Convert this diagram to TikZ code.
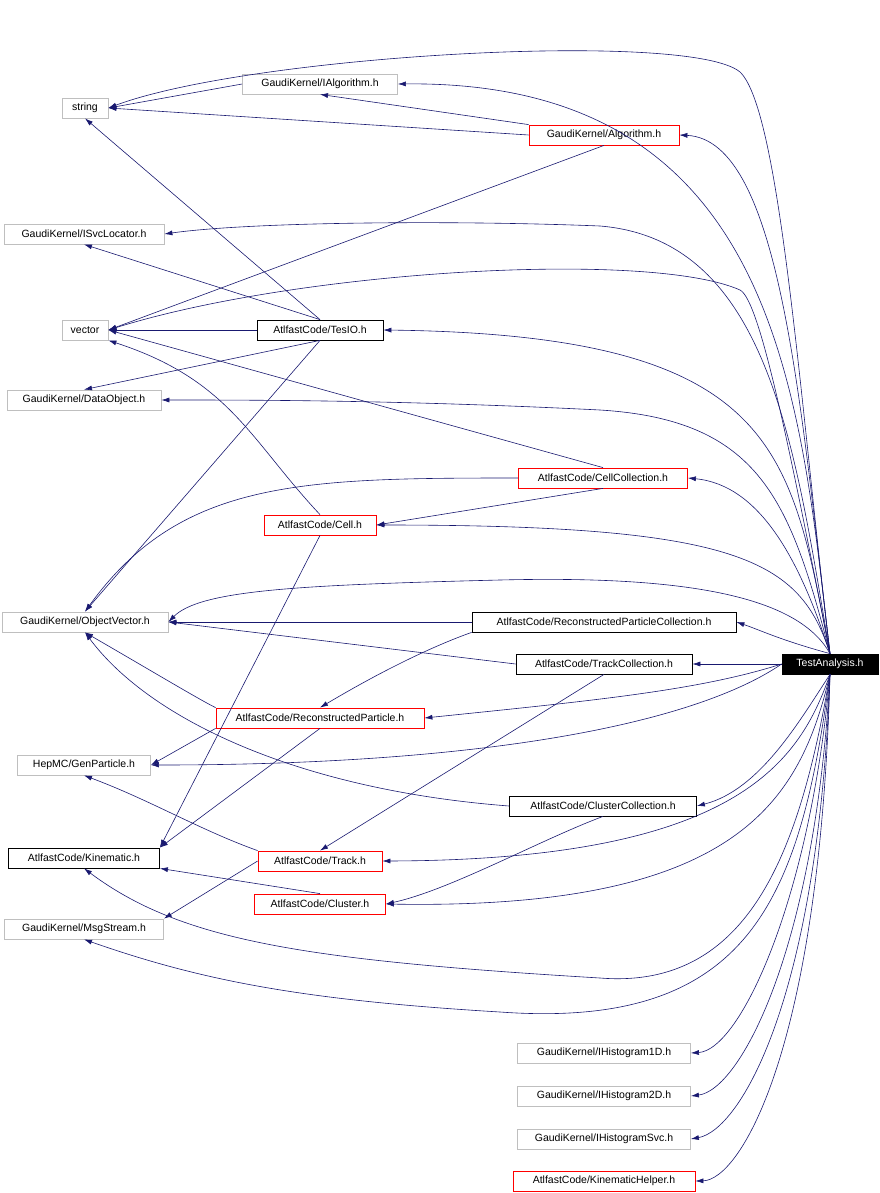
\documentclass[tikz,border=0pt]{standalone}
\usepackage{fontspec}
\setmainfont{Liberation Sans}
\usetikzlibrary{arrows.meta}
\definecolor{edgec}{HTML}{191970}
\definecolor{gboxc}{HTML}{BFBFBF}
\definecolor{rboxc}{HTML}{FF0000}
\tikzset{
  box/.style={draw, rectangle, line width=0.8pt, inner sep=0pt, minimum height=20pt, font=\fontsize{10.5}{12}\selectfont},
  gnode/.style={box, draw=gboxc},
  rnode/.style={box, draw=rboxc},
  bnode/.style={box, draw=black},
  e/.style={draw=edgec, line width=0.6pt, -{Latex[length=8pt,width=5pt]}}
}
\begin{document}
\begin{tikzpicture}[x=1pt,y=-1pt]
\useasboundingbox (0,0) rectangle (880,1193);
\node[gnode, minimum width=46] (str) at (85,108) {string};
\node[gnode, minimum width=155] (ialg) at (320,84) {GaudiKernel/IAlgorithm.h};
\node[rnode, minimum width=150] (alg) at (604,135) {GaudiKernel/Algorithm.h};
\node[gnode, minimum width=160] (isvc) at (84,234) {GaudiKernel/ISvcLocator.h};
\node[gnode, minimum width=46] (vec) at (85,330) {vector};
\node[bnode, minimum width=126] (tes) at (320,330) {AtlfastCode/TesIO.h};
\node[gnode, minimum width=154] (dobj) at (84,400) {GaudiKernel/DataObject.h};
\node[rnode, minimum width=169] (cc) at (603,478) {AtlfastCode/CellCollection.h};
\node[rnode, minimum width=112] (cell) at (320,525) {AtlfastCode/Cell.h};
\node[gnode, minimum width=166] (ov) at (85,622) {GaudiKernel/ObjectVector.h};
\node[bnode, minimum width=264] (rpc) at (604,622) {AtlfastCode/ReconstructedParticleCollection.h};
\node[bnode, minimum width=176] (tc) at (604,664) {AtlfastCode/TrackCollection.h};
\node[box, fill=black, text=white, minimum width=96] (ta) at (830,664) {TestAnalysis.h};
\node[rnode, minimum width=208] (rp) at (320,718) {AtlfastCode/ReconstructedParticle.h};
\node[gnode, minimum width=133] (gp) at (84,765) {HepMC/GenParticle.h};
\node[bnode, minimum width=187] (clc) at (603,806) {AtlfastCode/ClusterCollection.h};
\node[bnode, minimum width=151] (kin) at (84,858) {AtlfastCode/Kinematic.h};
\node[rnode, minimum width=124] (trk) at (320,861) {AtlfastCode/Track.h};
\node[rnode, minimum width=131] (clu) at (320,904) {AtlfastCode/Cluster.h};
\node[gnode, minimum width=159] (msg) at (84,929) {GaudiKernel/MsgStream.h};
\node[gnode, minimum width=173] (h1) at (604,1053) {GaudiKernel/IHistogram1D.h};
\node[gnode, minimum width=173] (h2) at (604,1096) {GaudiKernel/IHistogram2D.h};
\node[gnode, minimum width=173] (hs) at (604,1139) {GaudiKernel/IHistogramSvc.h};
\node[rnode, minimum width=182] (kh) at (604,1181) {AtlfastCode/KinematicHelper.h};

% TestAnalysis edges
\draw[e] (ta.north) .. controls (800,400) and (780,110) .. (740,72) .. controls (690,30) and (250,55) .. (str.east);
\draw[e] (ta.north) .. controls (800,400) and (780,80) .. (ialg.east);
\draw[e] (ta.north) .. controls (800,400) and (780,140) .. (alg.east);
\draw[e] (ta.north) .. controls (795,450) and (770,240) .. (600,226) .. controls (450,220) and (250,222) .. (isvc.east);
\draw[e] (ta.north) .. controls (790,450) and (760,300) .. (740,290) .. controls (650,250) and (300,270) .. (vec.east);
\draw[e] (ta.north) .. controls (790,450) and (780,335) .. (tes.east);
\draw[e] (ta.north) .. controls (790,500) and (760,420) .. (600,410) .. controls (400,400) and (250,400) .. (dobj.east);
\draw[e] (ta.north) .. controls (800,560) and (760,485) .. (cc.east);
\draw[e] (ta.north) .. controls (800,560) and (740,525) .. (cell.east);
\draw[e] (ta.north) .. controls (800,600) and (700,575) .. (500,580) .. controls (300,585) and (200,590) .. (ov.east);
\draw[e] (ta.north) .. controls (780,640) and (760,630) .. (rpc.east);
\draw[e] (ta.west) -- (tc.east);
\draw[e] (ta.west) .. controls (700,690) and (600,700) .. (rp.east);
\draw[e] (ta.west) .. controls (700,720) and (500,765) .. (gp.east);
\draw[e] (ta.south) .. controls (800,720) and (760,790) .. (clc.east);
\draw[e] (ta.south) .. controls (800,760) and (740,860) .. (trk.east);
\draw[e] (ta.south) .. controls (800,800) and (740,910) .. (clu.east);
\draw[e] (ta.south) .. controls (800,850) and (750,990) .. (600,978) .. controls (300,960) and (180,940) .. (kin.south);
\draw[e] (ta.south) .. controls (800,900) and (750,1030) .. (500,1012) .. controls (300,1000) and (200,980) .. (msg.south);
\draw[e] (ta.south) .. controls (810,900) and (740,1050) .. (h1.east);
\draw[e] (ta.south) .. controls (815,950) and (740,1090) .. (h2.east);
\draw[e] (ta.south) .. controls (818,1000) and (740,1130) .. (hs.east);
\draw[e] (ta.south) .. controls (820,1050) and (740,1180) .. (kh.east);

% other edges
\draw[e] (ialg.west) -- (str.east);
\draw[e] (alg.west) -- (str.east);
\draw[e] (alg.north west) -- (ialg.south);
\draw[e] (alg.south) -- (vec.east);
\draw[e] (tes.north) -- (str.south);
\draw[e] (tes.north) -- (isvc.south);
\draw[e] (tes.west) -- (vec.east);
\draw[e] (tes.south) -- (dobj.north);
\draw[e] (tes.south) -- (ov.north);
\draw[e] (cc.north) -- (vec.east);
\draw[e] (cc.south) -- (cell.east);
\draw[e] (cc.west) .. controls (300,478) and (180,480) .. (ov.north);
\draw[e] (cell.north) .. controls (250,440) and (230,380) .. (vec.south east);
\draw[e] (cell.south) -- (kin.north east);
\draw[e] (rpc.west) -- (ov.east);
\draw[e] (rpc.south west) .. controls (450,640) and (400,660) .. (rp.north);
\draw[e] (tc.west) -- (ov.east);
\draw[e] (tc.south) -- (trk.north);
\draw[e] (rp.north west) .. controls (200,700) and (150,670) .. (ov.south);
\draw[e] (rp.south west) -- (gp.east);
\draw[e] (rp.south) -- (kin.north east);
\draw[e] (clc.west) .. controls (300,790) and (150,720) .. (ov.south);
\draw[e] (clc.south) .. controls (540,840) and (450,890) .. (clu.east);
\draw[e] (trk.north west) .. controls (200,830) and (150,800) .. (gp.south);
\draw[e] (trk.west) -- (msg.north east);
\draw[e] (clu.north) -- (kin.south east);
\end{tikzpicture}
\end{document}
